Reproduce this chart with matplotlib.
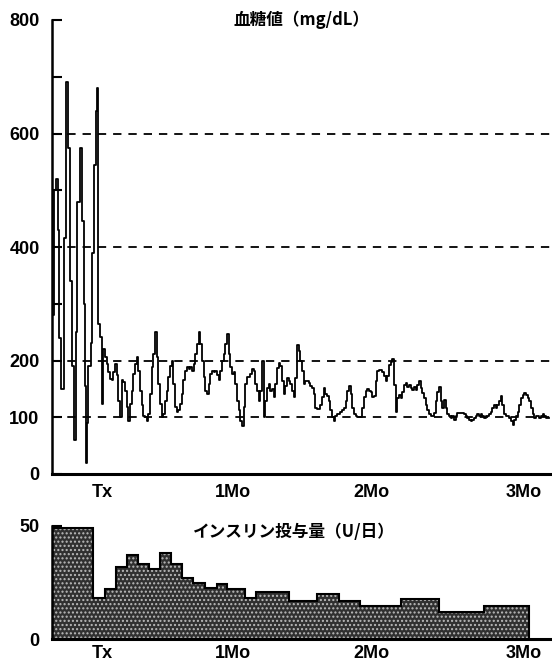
import numpy as np
import matplotlib
matplotlib.use("Agg")
import matplotlib.pyplot as plt

plt.rcParams['font.family'] = ['Liberation Sans', 'Noto Sans CJK JP', 'DejaVu Sans']
plt.rcParams['lines.scale_dashes'] = False

# 血糖値 (mg/dL) - 移植前 (不規則な測定日)
pre_days = [-11.3, -11.1, -10.6, -10.1, -9.9, -9.5, -8.8, -8.3, -7.8, -7.4,
            -6.9, -6.5, -6.0, -5.8, -5.1, -4.6, -4.2, -3.9, -3.7, -3.5,
            -3.2, -2.5, -2.3, -1.8, -1.4, -1.2, -0.9]
pre_glucose = [280, 500, 520, 430, 240, 150, 415, 690, 575, 340,
               190, 60, 250, 480, 575, 445, 300, 155, 20, 90,
               190, 230, 390, 545, 640, 680, 545]

# 移植後: 一定間隔の測定
post_start = -0.85
post_step = 0.384
post_glucose = [
    265, 241, 123, 220, 206, 194, 179, 168, 165, 179, 194, 174, 129, 100, 165, 162,
    147, 118, 94, 124, 147, 176, 194, 206, 182, 147, 121, 103, 100, 94, 106, 141,
    188, 212, 250, 206, 159, 124, 100, 106, 129, 147, 171, 191, 200, 159, 118, 109,
    112, 124, 141, 165, 182, 188, 185, 188, 182, 194, 212, 229, 250, 229, 200, 171,
    147, 141, 159, 176, 182, 179, 182, 174, 165, 182, 200, 212, 229, 247, 212, 188,
    176, 179, 159, 129, 112, 94, 85, 118, 159, 171, 171, 176, 185, 182,
    158, 147, 129, 147, 199, 100, 129, 152, 158, 147, 149, 135, 158, 187, 196, 190,
    164, 141, 155, 170, 164, 158, 147, 135, 170, 228, 216, 199, 181, 158, 164, 164,
    161, 155, 152, 141, 117, 114, 114, 122, 135, 152, 141, 137, 129, 112, 100, 94,
    103, 106, 106, 109, 112, 117, 129, 147, 155, 141, 117, 106, 103, 100, 100, 100,
    117, 135, 147, 149, 147, 144, 135, 138, 164, 181, 184,
    183, 180, 172, 163, 172, 192, 198, 203, 157, 110, 134, 140, 134, 145, 157, 160,
    154, 157, 151, 148, 154, 148, 157, 163, 151, 142, 134, 122, 113, 105, 102, 102,
    108, 128, 145, 154, 128, 116, 131, 116, 105, 102, 99, 102, 96, 102, 108, 108,
    108, 108, 105, 102, 99, 96, 93, 96, 99, 102, 105, 102, 105, 102, 99, 102,
    102, 105, 110, 116, 122, 116, 122, 128, 137, 122, 105, 102, 102, 99, 93, 87,
    96, 102, 110, 122, 134, 140, 142, 140, 134, 128, 116, 105, 99, 102, 102, 99,
    102, 105, 102, 99, 99, 99,
]

# インスリン投与量 (U/日)
insulin_edges = [-11.5, -2.1, 0.7, 3.2, 5.8, 8.3, 10.8, 13.4, 15.9, 18.4, 21.0,
                 23.7, 26.5, 28.8, 32.9, 35.3, 42.9, 49.5, 54.4, 59.4, 68.7,
                 77.4, 87.8, 98.2]
insulin_dose = [49, 18, 22, 32, 37, 33, 31, 38, 33, 27, 25,
                22.5, 24.5, 22, 18, 21, 17, 20, 17, 14.5, 17.5,
                12, 14.5]

tick_days = [0, 30, 62, 97]
tick_labels = ['Tx', '1Mo', '2Mo', '3Mo']
grid_levels = [100, 200, 400, 600]

post_days = post_start + post_step * np.arange(len(post_glucose))
days = np.concatenate([pre_days, post_days])
glucose = np.concatenate([pre_glucose, post_glucose])

W, H = 552, 664
fig = plt.figure(figsize=(W / 100, H / 100), dpi=100)
ax1 = fig.add_axes([52 / W, 1 - 474 / H, 498 / W, (474 - 20) / H])
ax2 = fig.add_axes([52 / W, 1 - 639 / H, 498 / W, (639 - 526) / H])

tick_font = dict(fontsize=13, fontweight='bold')

# --- 上段: 血糖値 ---
for lv in grid_levels:
    ax1.axhline(lv, color='black', lw=1.3, dashes=(6, 5), zorder=1)
ax1.step(days, glucose, where='post', color='black', lw=1.3, zorder=3)
ax1.set_xlim(-11.5, 103)
ax1.set_ylim(0, 800)
ax1.set_yticks([0, 100, 200, 400, 600, 800])
ax1.set_yticks([300, 500, 700], minor=True)
ax1.set_yticklabels(['0', '100', '200', '400', '600', '800'], **tick_font)
ax1.set_xticks(tick_days)
ax1.set_xticklabels(tick_labels, **tick_font)
ax1.tick_params(axis='y', which='both', direction='in', length=7, width=1.5, pad=9)
ax1.tick_params(axis='x', length=0, pad=7)
ax1.text(0.5, 1.0, '血糖値（mg/dL）', transform=ax1.transAxes, ha='center', va='center',
         fontsize=12, fontweight='bold', family=['Noto Sans CJK JP', 'DejaVu Sans'])

# --- 下段: インスリン投与量 ---
ax2.stairs(insulin_dose, insulin_edges, fill=True, facecolor='#303030',
           edgecolor='#bbbbbb', hatch='....', linewidth=0, zorder=2)
ax2.stairs(insulin_dose, insulin_edges, baseline=0, color='black', lw=1.5, zorder=3)
ax2.set_xlim(-11.5, 103)
ax2.set_ylim(0, 50)
ax2.set_yticks([0, 50])
ax2.set_yticklabels(['0', '50'], **tick_font)
ax2.set_xticks(tick_days)
ax2.set_xticklabels(tick_labels, **tick_font)
ax2.tick_params(axis='y', direction='in', length=7, width=1.5, pad=9)
ax2.tick_params(axis='x', length=0, pad=4)
fig.text(294 / W, 1 - 532 / H, 'インスリン投与量（U/日）', ha='center', va='center',
         fontsize=12, fontweight='bold', family=['Noto Sans CJK JP', 'DejaVu Sans'])

for ax in (ax1, ax2):
    ax.spines['top'].set_visible(False)
    ax.spines['right'].set_visible(False)
    ax.spines['left'].set_linewidth(1.8)
    ax.spines['bottom'].set_linewidth(2.2)
    ax.patch.set_alpha(0)

fig.savefig('out.png', dpi=100, facecolor='white')
